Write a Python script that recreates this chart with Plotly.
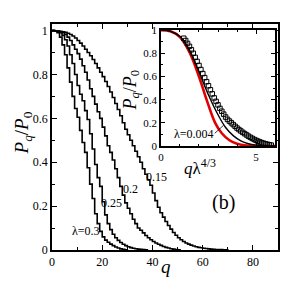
import plotly.graph_objects as go

# ---- main panel data: P_q/P_0 vs q (staircase at integer q) ----
p_l030 = [1.0, 0.998, 0.99, 0.97, 0.935, 0.89, 0.83, 0.765, 0.70, 0.645,
          0.605, 0.545, 0.49, 0.445, 0.375, 0.30, 0.235, 0.165, 0.12, 0.085,
          0.06, 0.045, 0.035, 0.027, 0.02, 0.014, 0.009, 0.005, 0.003, 0.001, 0.0]
p_l025 = [1.0, 0.999, 0.996, 0.99, 0.978, 0.958, 0.93, 0.89, 0.85, 0.80,
          0.75, 0.71, 0.68, 0.635, 0.595, 0.53, 0.46, 0.39, 0.33, 0.29,
          0.22, 0.16, 0.12, 0.093, 0.072, 0.056, 0.044, 0.034, 0.026, 0.02,
          0.015, 0.011, 0.008, 0.006, 0.004, 0.003, 0.002, 0.001, 0.0]
p_l020 = [1.0, 0.999, 0.998, 0.995, 0.99, 0.982, 0.97, 0.955, 0.935, 0.915,
          0.895, 0.87, 0.84, 0.81, 0.775, 0.735, 0.70, 0.665, 0.63, 0.60,
          0.56, 0.52, 0.475, 0.445, 0.41, 0.37, 0.33, 0.29, 0.25, 0.215,
          0.19, 0.165, 0.14, 0.12, 0.10, 0.09, 0.078, 0.066, 0.056, 0.047,
          0.039, 0.032, 0.026, 0.021, 0.016, 0.012, 0.009, 0.006, 0.004, 0.002,
          0.001, 0.0]
p_l015 = [1.0, 0.999, 0.998, 0.997, 0.995, 0.992, 0.988, 0.982, 0.975, 0.966,
          0.955, 0.943, 0.93, 0.915, 0.90, 0.885, 0.868, 0.85, 0.83, 0.81,
          0.79, 0.768, 0.745, 0.72, 0.695, 0.668, 0.64, 0.612, 0.58, 0.55,
          0.525, 0.50, 0.475, 0.45, 0.425, 0.40, 0.37, 0.345, 0.32, 0.295,
          0.26, 0.225, 0.195, 0.17, 0.15, 0.13, 0.112, 0.095, 0.08, 0.067,
          0.056, 0.047, 0.039, 0.032, 0.027, 0.022, 0.018, 0.015, 0.012, 0.010,
          0.008, 0.0065, 0.005, 0.004, 0.003, 0.0025, 0.002, 0.0015, 0.001, 0.0005, 0.0]

series = [("λ=0.3", p_l030), ("0.25", p_l025), ("0.2", p_l020), ("0.15", p_l015)]

# curve labels (text, q, P)
label_text = ["λ=0.3", "0.25", "0.2", "0.15"]
label_q = [13.6, 23.6, 31.2, 41.6]
label_p = [0.088, 0.216, 0.277, 0.333]

# ---- inset data: P_q/P_0 vs q*lambda^(4/3) ----
red_x = [0.0, 0.5, 1.0, 1.5, 2.0, 2.4, 2.85, 3.2, 3.6, 4.0, 4.5, 5.0, 6.0]
red_y = [1.0, 0.99, 0.94, 0.81, 0.60, 0.40, 0.20, 0.11, 0.05, 0.02, 0.005, 0.001, 0.0]
blk_x = [0.0, 0.5, 1.0, 1.5, 2.0, 2.5, 3.0, 3.4, 3.8, 4.2, 4.6, 5.0, 5.5, 6.0]
blk_y = [1.0, 0.99, 0.945, 0.83, 0.64, 0.44, 0.27, 0.16, 0.09, 0.045, 0.02, 0.008, 0.002, 0.0]
sq_x = [1.2, 1.3, 1.4, 1.5, 1.6, 1.7, 1.8, 1.9, 2.0, 2.1, 2.2, 2.3, 2.4, 2.5, 2.6,
        2.7, 2.8, 2.9, 3.0, 3.1, 3.2, 3.3, 3.4, 3.5, 3.6, 3.7, 3.8, 3.9, 4.0, 4.1,
        4.2, 4.3, 4.4, 4.5, 4.6, 4.7, 4.8, 4.9, 5.0, 5.1, 5.2, 5.3, 5.4, 5.5, 5.6,
        5.7, 5.8]
sq_y = [0.93, 0.91, 0.885, 0.86, 0.83, 0.80, 0.765, 0.73, 0.695, 0.66, 0.625, 0.59,
        0.555, 0.52, 0.485, 0.45, 0.415, 0.385, 0.355, 0.325, 0.30, 0.275, 0.25,
        0.23, 0.215, 0.20, 0.185, 0.17, 0.155, 0.142, 0.13, 0.118, 0.107, 0.096,
        0.085, 0.075, 0.066, 0.057, 0.049, 0.042, 0.035, 0.029, 0.024, 0.019,
        0.015, 0.011, 0.008]

serif = "Liberation Serif, Times New Roman, serif"

fig = go.Figure()
for name, vals in series:
    fig.add_trace(go.Scatter(x=list(range(len(vals))), y=vals, mode="lines",
                             line=dict(shape="hv", color="black", width=1.6),
                             showlegend=False, xaxis="x", yaxis="y"))

fig.add_trace(go.Scatter(x=red_x, y=red_y, mode="lines", line=dict(color="#e00000", width=2.6, shape="spline"),
                         showlegend=False, xaxis="x2", yaxis="y2"))
fig.add_trace(go.Scatter(x=blk_x, y=blk_y, mode="lines", line=dict(color="black", width=1.4, shape="spline"),
                         showlegend=False, xaxis="x2", yaxis="y2"))
fig.add_trace(go.Scatter(x=sq_x, y=sq_y, mode="markers",
                         marker=dict(symbol="square-open", size=4.5, color="black", line=dict(width=1)),
                         showlegend=False, xaxis="x2", yaxis="y2"))

for t, q, p in zip(label_text, label_q, label_p):
    fig.add_annotation(x=q, y=p, xref="x", yref="y", text=t, showarrow=False,
                       font=dict(family=serif, size=12, color="black"))

fig.add_annotation(x=1.73, y=0.10, xref="x2", yref="y2", text="λ=0.004", showarrow=False,
                   font=dict(family=serif, size=12, color="black"))
fig.add_shape(type="line", xref="x2", yref="y2", x0=2.83, y0=0.11, x1=3.3, y1=0.18,
              line=dict(color="black", width=0.8))

fig.add_annotation(x=0.82, y=0.212, xref="paper", yref="paper", text="(b)", showarrow=False,
                   yanchor="middle", font=dict(family=serif, size=20, color="black"))
fig.add_annotation(x=0.735, y=0.367, xref="paper", yref="paper",
                   text="<i>q</i>λ<sup>4/3</sup>", showarrow=False, yanchor="middle",
                   font=dict(family=serif, size=17, color="black"))
fig.add_annotation(x=0.352, y=0.708, xref="paper", yref="paper",
                   text="<i>P</i><sub><i>q</i></sub>/<i>P</i><sub>0</sub>", showarrow=False,
                   textangle=-90, xanchor="center", yanchor="middle",
                   font=dict(family=serif, size=18, color="black"))
fig.add_annotation(x=-0.124, y=0.52, xref="paper", yref="paper",
                   text="<i>P</i><sub><i>q</i></sub>/<i>P</i><sub>0</sub>", showarrow=False,
                   textangle=-90, xanchor="center", yanchor="middle",
                   font=dict(family=serif, size=19, color="black"))
fig.add_annotation(x=0.504, y=-0.072, xref="paper", yref="paper",
                   text="<i>q</i>", showarrow=False, xanchor="center", yanchor="middle",
                   font=dict(family=serif, size=19, color="black"))


def axis_style(size):
    return dict(showline=True, linecolor="black", linewidth=1.5, mirror="ticks",
                ticks="inside", tickcolor="black", tickwidth=1, showgrid=False,
                zeroline=False, automargin=False,
                tickfont=dict(family=serif, size=size, color="black"))


fig.update_layout(
    width=291, height=291, autosize=False,
    margin=dict(l=52, r=13, t=24, b=41),
    paper_bgcolor="white", plot_bgcolor="white",
    xaxis=dict(domain=[0, 1], range=[0, 90], dtick=20, ticklen=5,
               minor=dict(dtick=10, ticklen=3, ticks="inside", tickcolor="black"),
               anchor="y", **axis_style(12)),
    yaxis=dict(domain=[0, 1], range=[0, 1.03], tickvals=[0, 0.2, 0.4, 0.6, 0.8, 1],
               ticktext=["0", "0.2", "0.4", "0.6", "0.8", "1"], ticklen=5,
               minor=dict(dtick=0.1, ticklen=3, ticks="inside", tickcolor="black"),
               anchor="x", **axis_style(12)),
    xaxis2=dict(domain=[0.482, 0.987], range=[0, 6], dtick=5, ticklen=4,
                minor=dict(dtick=1, ticklen=2, ticks="inside", tickcolor="black"),
                anchor="y2", **axis_style(11)),
    yaxis2=dict(domain=[0.46, 0.973], range=[0, 1.0], tickvals=[0, 0.2, 0.4, 0.6, 0.8, 1],
                ticktext=["0", "0.2", "0.4", "0.6", "0.8", "1"], ticklen=4,
                minor=dict(dtick=0.1, ticklen=2, ticks="inside", tickcolor="black"),
                anchor="x2", **axis_style(11)),
)

fig.write_html("out.html", config={"responsive": False, "displayModeBar": False},
               post_script="document.body.style.margin='0';document.body.style.overflow='hidden';")
